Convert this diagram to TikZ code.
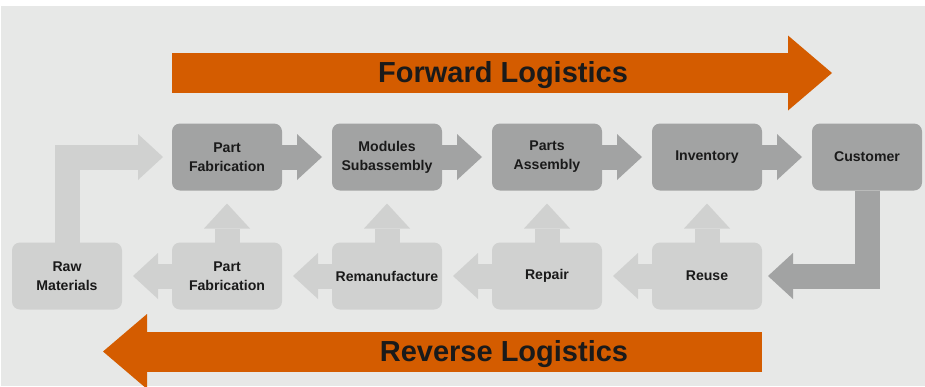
\documentclass[tikz,border=0pt]{standalone}
\usepackage{fontspec}
\setmainfont{Liberation Sans}
\usetikzlibrary{positioning, arrows.meta}

\definecolor{darkbox}{HTML}{A2A3A3}
\definecolor{lightbox}{HTML}{D0D1D0}
\definecolor{panel}{HTML}{E7E8E7}
\definecolor{logistics}{HTML}{D45C00}
\definecolor{labeltext}{HTML}{1A1A1A}

\begin{document}
\begin{tikzpicture}[x=1pt, y=-1pt, node distance=50pt,
	stage/.style={rectangle, rounded corners=8pt, minimum width=110pt, minimum height=67pt, inner sep=0pt, outer sep=0pt, align=center, text=labeltext, font=\fontsize{14.1}{19}\selectfont\bfseries},
	fwdstage/.style={stage, fill=darkbox},
	revstage/.style={stage, fill=lightbox},
	flow/.style={line width=25pt, line join=miter, -{Triangle[width=46pt, length=25pt, line width=0pt]}},
	fwdflow/.style={flow, draw=darkbox},
	revflow/.style={flow, draw=lightbox},
	bigflow/.style={draw=logistics, line width=40pt, -{Triangle[width=75pt, length=44pt, line width=0pt]}},
	biglabel/.style={font=\fontsize{29}{31}\selectfont\bfseries, text=labeltext, anchor=base}]
	\useasboundingbox (0,0) rectangle (925,386);
	\fill[panel] (1,6) rectangle (925,386);

	% forward chain
	\node[fwdstage] (partfab) at (227,157) {Part\\Fabrication};
	\node[fwdstage, right=of partfab] (modules) {Modules\\Subassembly};
	\node[fwdstage, right=of modules] (assembly) {Parts\\Assembly};
	\node[fwdstage, right=of assembly] (inventory) {Inventory};
	\node[fwdstage, right=of inventory] (customer) {Customer};

	% reverse chain
	\node[revstage, below=52pt of partfab] (refab) {Part\\Fabrication};
	\node[revstage, left=of refab] (raw) {Raw\\Materials};
	\node[revstage, below=52pt of modules] (reman) {Remanufacture};
	\node[revstage, below=52pt of assembly] (repair) {Repair};
	\node[revstage, below=52pt of inventory] (reuse) {Reuse};

	\foreach \a/\b in {partfab/modules, modules/assembly, assembly/inventory, inventory/customer}
		\draw[fwdflow, shorten >=10pt] (\a.east) -- (\b.west);
	\foreach \a/\b in {reuse/repair, repair/reman, reman/refab, refab/raw}
		\draw[revflow, shorten >=11pt] (\a.west) -- (\b.east);
	\foreach \a/\b in {refab/partfab, reman/modules, repair/assembly, reuse/inventory}
		\draw[revflow, shorten >=13pt] (\a.north) -- (\b.south);
	\draw[revflow, shorten >=9pt] (raw.north) |- (partfab.west);
	\draw[fwdflow, shorten >=6pt] (customer.south) |- (reuse.east);

	% big banners
	\coordinate (fwdtail) at (172,73);
	\coordinate (fwdhead) at (832,73);
	\draw[bigflow] (fwdtail) -- (fwdhead);
	\node[biglabel] (fwdlabel) at (503,82) {Forward Logistics};
	\coordinate (revtail) at (762,351.5);
	\coordinate (revhead) at (103,351.5);
	\draw[bigflow] (revtail) -- (revhead);
	\node[biglabel] (revlabel) at (504,361) {Reverse Logistics};
\end{tikzpicture}
\end{document}
